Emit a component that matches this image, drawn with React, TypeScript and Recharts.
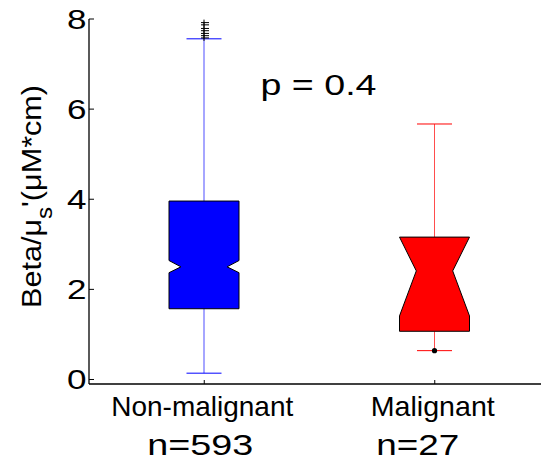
import React from "react";
import { ComposedChart, Bar, XAxis, YAxis, Customized } from "recharts";

const groups = ["Non-malignant", "Malignant"];
const counts = [593, 27];
const whiskerLow = [0.14, 0.64];
const q1 = [1.57, 1.07];
const median = [2.5, 2.41];
const q3 = [3.96, 3.16];
const notchLow = [2.37, 1.41];
const notchHigh = [2.64, 3.16];
const whiskerHigh = [7.56, 5.67];
const plusOutliers = [[7.58, 7.63, 7.68, 7.74, 7.79, 7.87, 7.92], []];
const dotOutliers = [[], [0.64]];
const yTicks = [0, 2, 4, 6, 8];
const pValueText = "p = 0.4";

// look
const FONT = "'Liberation Sans', Arial, sans-serif";
const boxColors = ["#0000ff", "#ff0000"];
const notchInset = [0.34, 0.48];
const nShift = [-4, -17];
const nLength = [106, 83];
const labelLength = [182, 124];

const data = groups.map((name, i) => ({
  name,
  idx: i,
  lo: whiskerLow[i],
  hi: whiskerHigh[i],
  q1: q1[i],
  median: median[i],
  q3: q3[i],
  notchLo: notchLow[i],
  notchHi: notchHigh[i],
  plus: plusOutliers[i],
  dots: dotOutliers[i],
}));

function BoxShape(props: any) {
  const { x, y, width, height, payload } = props;
  const i = payload.idx;
  const k = height / (payload.hi - payload.lo);
  const py = (v: number) => y + (payload.hi - v) * k;
  const cx = x + width / 2;
  const hw = width / 2;
  const nw = hw * (1 - notchInset[i]);
  const cap = hw * 0.5;
  const color = boxColors[i];
  const pts = [
    [cx - hw, py(payload.q3)],
    [cx + hw, py(payload.q3)],
    [cx + hw, py(payload.notchHi)],
    [cx + nw, py(payload.median)],
    [cx + hw, py(payload.notchLo)],
    [cx + hw, py(payload.q1)],
    [cx - hw, py(payload.q1)],
    [cx - hw, py(payload.notchLo)],
    [cx - nw, py(payload.median)],
    [cx - hw, py(payload.notchHi)],
  ]
    .map((p) => p.join(","))
    .join(" ");
  return (
    <g>
      <line x1={cx} x2={cx} y1={py(payload.q3)} y2={py(payload.hi)} stroke={color} strokeWidth={0.7} />
      <line x1={cx} x2={cx} y1={py(payload.q1)} y2={py(payload.lo)} stroke={color} strokeWidth={0.7} />
      <line x1={cx - cap} x2={cx + cap} y1={py(payload.hi)} y2={py(payload.hi)} stroke={color} strokeWidth={1} />
      <line x1={cx - cap} x2={cx + cap} y1={py(payload.lo)} y2={py(payload.lo)} stroke={color} strokeWidth={1} />
      <polygon points={pts} fill={color} stroke="#000" strokeWidth={1} />
      {payload.plus.map((v: number, j: number) => (
        <g key={"p" + j} stroke="#000" strokeWidth={1}>
          <line x1={cx - 3} x2={cx + 5} y1={py(v)} y2={py(v)} />
          <line x1={cx} x2={cx} y1={py(v) - 3} y2={py(v) + 3} />
        </g>
      ))}
      {payload.dots.map((v: number, j: number) => (
        <circle key={"d" + j} cx={cx} cy={py(v)} r={2.6} fill="#000" />
      ))}
    </g>
  );
}

function YTick(props: any) {
  const { x, y, payload } = props;
  const axisX = x + 4;
  return (
    <g>
      <line x1={axisX} x2={axisX + 5} y1={y} y2={y} stroke="#000" strokeWidth={1} />
      <text
        x={x + 1.5}
        y={y + 10}
        textAnchor="end"
        fontSize={28}
        fontFamily={FONT}
        fill="#000"
        textLength={19.5}
        lengthAdjust="spacingAndGlyphs"
      >
        {payload.value}
      </text>
    </g>
  );
}

function CategoryTick(props: any) {
  const { x, y, payload, index } = props;
  return (
    <g>
      <line x1={x} x2={x} y1={y} y2={y - 4} stroke="#000" strokeWidth={1} />
      <text
        x={x - 2}
        y={y + 31.5}
        textAnchor="middle"
        fontSize={28}
        fontFamily={FONT}
        fill="#000"
        textLength={labelLength[index]}
        lengthAdjust="spacingAndGlyphs"
      >
        {payload.value}
      </text>
      <text
        x={x + nShift[index]}
        y={y + 71}
        textAnchor="middle"
        fontSize={30}
        fontFamily={FONT}
        fill="#000"
        textLength={nLength[index]}
        lengthAdjust="spacingAndGlyphs"
      >
        {"n=" + counts[index]}
      </text>
    </g>
  );
}

function TopTick(props: any) {
  const { x, y } = props;
  return <line x1={x} x2={x} y1={y} y2={y + 4} stroke="#000" strokeWidth={1} />;
}

function YTitle(props: any) {
  const vb = props.viewBox;
  const tx = vb.x + 41;
  const ty = vb.y + vb.height / 2 - 5;
  return (
    <text
      x={tx}
      y={ty}
      transform={`rotate(-90, ${tx}, ${ty})`}
      textAnchor="middle"
      fontSize={28}
      fontFamily={FONT}
      fill="#000"
      textLength={223}
      lengthAdjust="spacingAndGlyphs"
    >
      Beta/μ
      <tspan fontSize={22} dy={11}>
        s
      </tspan>
      <tspan dy={-11}>'(μM*cm)</tspan>
    </text>
  );
}

function PText() {
  return (
    <text
      x={318.5}
      y={95}
      textAnchor="middle"
      fontSize={29}
      fontFamily={FONT}
      fill="#000"
      textLength={116}
      lengthAdjust="spacingAndGlyphs"
    >
      {pValueText}
    </text>
  );
}

export default function App() {
  return (
    <div
      style={{
        position: "absolute",
        left: 0,
        top: 0,
        width: 541,
        height: 465,
        overflow: "hidden",
        background: "#fff",
      }}
    >
      <ComposedChart
        width={560}
        height={465}
        data={data}
        margin={{ top: 19, right: 10, bottom: 0, left: 0 }}
      >
        <XAxis
          xAxisId="b"
          dataKey="name"
          type="category"
          interval={0}
          height={81}
          tickSize={0}
          tickMargin={0}
          tickLine={false}
          axisLine={{ stroke: "#000", strokeWidth: 1.3 }}
          tick={<CategoryTick />}
        />
        <XAxis
          xAxisId="t"
          dataKey="name"
          type="category"
          orientation="top"
          interval={0}
          height={0}
          tickSize={0}
          tickMargin={0}
          tickLine={false}
          axisLine={{ stroke: "#000", strokeWidth: 1.3 }}
          tick={<TopTick />}
        />
        <YAxis
          type="number"
          domain={[-0.1, 8]}
          ticks={yTicks}
          allowDataOverflow
          width={89}
          tickSize={0}
          tickMargin={4}
          tickLine={false}
          axisLine={{ stroke: "#000", strokeWidth: 1.3 }}
          tick={<YTick />}
          label={<YTitle />}
        />
        <Bar
          xAxisId="b"
          dataKey={(d: any) => [d.lo, d.hi]}
          barSize={70}
          shape={<BoxShape />}
          isAnimationActive={false}
        />
        <Customized component={<PText />} />
      </ComposedChart>
    </div>
  );
}
